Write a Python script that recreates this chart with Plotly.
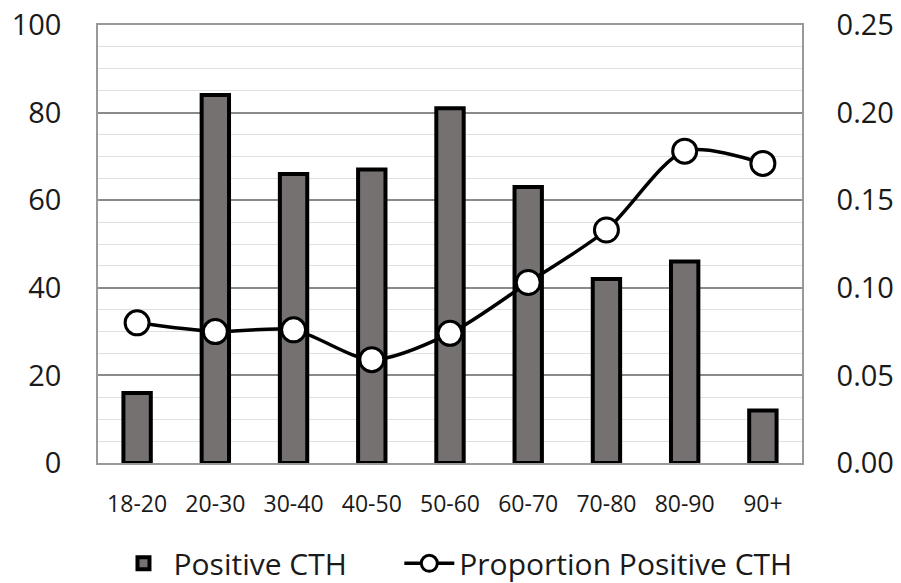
import plotly.graph_objects as go

categories = ["18-20", "20-30", "30-40", "40-50", "50-60", "60-70", "70-80", "80-90", "90+"]
positive_cth = [16, 84, 66, 67, 81, 63, 42, 46, 12]
proportion_positive = [0.080, 0.075, 0.076, 0.059, 0.074, 0.103, 0.133, 0.178, 0.171]
left_ticks = [0, 20, 40, 60, 80, 100]
right_ticks = [0.0, 0.05, 0.10, 0.15, 0.20, 0.25]
right_tick_labels = ["0.00", "0.05", "0.10", "0.15", "0.20", "0.25"]

FONT = "Open Sans"

fig = go.Figure()
fig.add_trace(go.Bar(
    x=categories, y=positive_cth, name="Positive CTH",
    marker=dict(color="#767171", line=dict(color="black", width=4)),
    width=0.35, legend="legend",
))
fig.add_trace(go.Scatter(
    x=categories, y=proportion_positive, name="Proportion Positive CTH",
    yaxis="y2", mode="lines+markers", legend="legend2",
    line=dict(color="black", width=3.5, shape="spline", smoothing=0.8),
    marker=dict(size=24, color="white", line=dict(color="black", width=3)),
))

legend_common = dict(orientation="h", xanchor="left", y=-0.229, yanchor="middle",
                     font=dict(size=30), itemwidth=50, bgcolor="rgba(0,0,0,0)")

fig.update_layout(
    width=901, height=583,
    margin=dict(l=98, r=99, t=25, b=120, autoexpand=False),
    paper_bgcolor="white", plot_bgcolor="white",
    font=dict(family=FONT, color="#1a1a1a", size=22),
    showlegend=True,
    legend=dict(x=0.022, **legend_common),
    legend2=dict(x=0.428, **legend_common),
    xaxis=dict(
        range=[-0.5, 8.5],
        showline=True, linecolor="#999", linewidth=1.5, mirror=True,
        tickfont=dict(size=23), ticks="", ticklabelstandoff=20, automargin=False,
    ),
    yaxis=dict(
        range=[0, 100], tickvals=left_ticks, showgrid=True,
        gridcolor="#8a8a8a", gridwidth=1.5,
        minor=dict(dtick=5, showgrid=True, gridcolor="#e0e0e0", gridwidth=1),
        showline=True, linecolor="#999", linewidth=1.5,
        tickfont=dict(size=29), ticklabelstandoff=29, zeroline=False, automargin=False,
    ),
    yaxis2=dict(
        range=[0, 0.25], tickvals=right_ticks, ticktext=right_tick_labels,
        overlaying="y", side="right", showgrid=False, zeroline=False,
        showline=True, linecolor="#999", linewidth=1.5,
        tickfont=dict(size=29), ticklabelstandoff=27, automargin=False,
    ),
)

fig.write_html("out.html", config={"displayModeBar": False},
               post_script="document.body.style.margin='0px';")
